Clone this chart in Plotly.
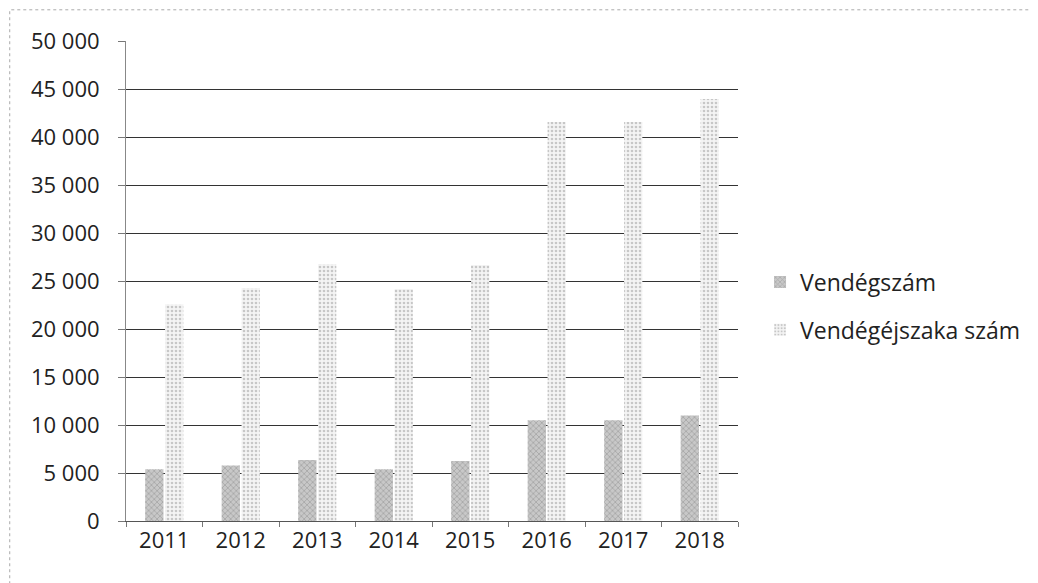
import plotly.graph_objects as go

years = ["2011", "2012", "2013", "2014", "2015", "2016", "2017", "2018"]
vendegszam = [5400, 5800, 6350, 5400, 6250, 10500, 10500, 11000]
vendegejszaka = [22600, 24300, 26800, 24200, 26700, 41600, 41600, 44000]
y_ticks = [0, 5000, 10000, 15000, 20000, 25000, 30000, 35000, 40000, 45000, 50000]
y_labels = ["0", "5 000", "10 000", "15 000", "20 000", "25 000", "30 000",
            "35 000", "40 000", "45 000", "50 000"]

FONT = "Open Sans"

fig = go.Figure()
fig.add_trace(go.Bar(
    x=years, y=vendegszam, name="Vendégszám", legendgroup="a",
    marker=dict(color="#b5b5b5", line=dict(width=0),
                pattern=dict(shape="x", fgcolor="#8a8a8a", bgcolor="#c8c8c8", size=4, solidity=0.4)),
))
fig.add_trace(go.Bar(
    x=years, y=vendegejszaka, name="Vendégéjszaka szám", legendgroup="b",
    marker=dict(color="#e6e6e6", line=dict(width=0),
                pattern=dict(shape=".", fgcolor="#9a9a9a", bgcolor="#f4f4f4", size=4, solidity=0.35)),
))

fig.update_layout(
    width=1038, height=583,
    margin=dict(l=118, r=308, t=33, b=70, autoexpand=False),
    paper_bgcolor="white", plot_bgcolor="white",
    barmode="group", bargap=0.48, bargroupgap=0.08,
    font=dict(family=FONT, size=20, color="#222222"),
    showlegend=True,
    legend=dict(x=1.036, y=0.448, xanchor="left", yanchor="middle",
                font=dict(family=FONT, size=23, color="#222222"),
                traceorder="grouped", tracegroupgap=15,
                itemwidth=30, bgcolor="rgba(0,0,0,0)"),
    xaxis=dict(showgrid=False, showline=True, linecolor="#555555", linewidth=1,
               ticks="outside", tickson="boundaries", ticklen=5, tickcolor="#777777",
               automargin=False,
               tickfont=dict(family=FONT, size=22, color="#222222")),
    yaxis=dict(range=[0, 50060], tickvals=y_ticks, ticktext=y_labels,
               showgrid=True, gridcolor="#333333", gridwidth=1,
               showline=True, linecolor="#888888", linewidth=1,
               ticks="outside", ticklen=7, tickcolor="#777777",
               zeroline=False, automargin=False, ticklabelstandoff=14,
               tickfont=dict(family=FONT, size=22, color="#222222")),
    shapes=[dict(type="rect", xref="paper", yref="paper",
                 x0=-0.19, x1=1.7, y0=-0.2, y1=1.065,
                 line=dict(color="#aaaaaa", width=1, dash="dot"), layer="below")],
)

fig.write_html("out.html")
